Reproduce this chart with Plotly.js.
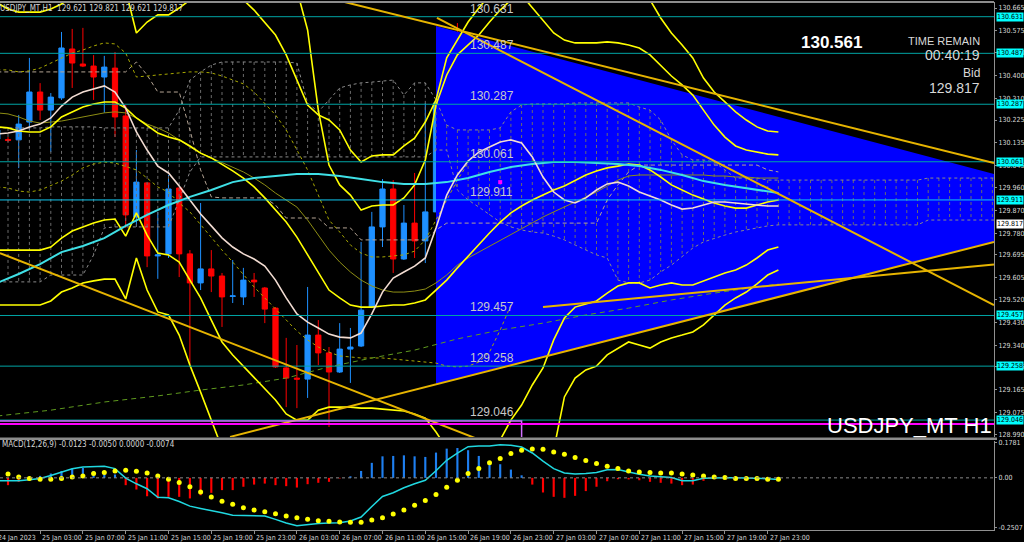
<!DOCTYPE html>
<html>
<head>
<meta charset="utf-8">
<script src="https://cdn.plot.ly/plotly-3.0.1.min.js"></script>
<style>
html,body{margin:0;padding:0;background:#000;overflow:hidden;}
#chart{width:1024px;height:542px;}
</style>
</head>
<body>
<div id="chart"></div>
<script>
// ---------- time base: bar index 0 = 25 Jan 2023 00:00, hourly bars ----------
const START_MS = Date.UTC(2023, 0, 25, 0, 0, 0);
const HOUR_MS = 3600000;
function t(i) { return new Date(START_MS + i * HOUR_MS).toISOString().slice(0, 23).replace('T', ' '); }
const FIRST_BAR = -1;

// ---------- USDJPY H1 candles (bars -1 .. 72) ----------
const open = [130.150,130.148,130.147,130.217,130.335,130.264,130.312,130.504,130.445,130.437,
 130.394,130.429,130.241,129.844,129.978,129.691,129.699,129.958,129.699,129.585,
 129.640,129.612,129.532,129.530,129.596,129.565,129.486,129.251,129.211,129.207,
 129.380,129.310,129.235,129.325,129.337,129.490,129.805,129.954,129.679,129.820,
 129.750,129.864,130.292,130.449,130.402,130.335,130.147,130.221,130.241,130.158,
 130.115,129.801,129.644,129.687,129.761,129.856,130.017,129.981,130.186,129.962,
 129.903,129.848,129.820,129.903,129.868,129.726,129.860,129.966,129.938,129.919,
 129.915,129.899,129.875,129.621];
const high = [130.205,130.158,130.245,130.469,130.370,130.331,130.571,130.583,130.587,130.480,
 130.477,130.492,130.284,130.107,129.978,129.864,130.009,129.958,129.714,129.899,
 129.714,129.624,129.675,129.644,129.624,129.569,129.490,129.369,129.341,129.569,
 129.439,129.333,129.427,129.408,129.746,129.864,129.993,129.989,129.891,130.017,
 130.292,130.304,130.551,130.606,130.422,130.363,130.292,130.272,130.276,130.198,
 130.135,129.801,129.726,129.781,129.891,130.154,130.037,130.264,130.272,129.978,
 129.938,129.883,129.938,129.923,129.891,129.883,130.068,129.981,129.978,129.930,
 129.938,129.923,129.883,129.821];
const low = [130.127,130.139,130.036,130.186,130.225,130.099,130.304,130.351,130.433,130.304,
 130.253,130.158,129.801,129.805,129.647,129.601,129.683,129.608,129.255,129.557,
 129.549,129.412,129.506,129.498,129.530,129.427,129.251,129.097,129.093,129.133,
 129.262,129.019,129.231,129.192,129.333,129.486,129.726,129.624,129.675,129.683,
 129.663,129.864,130.119,130.382,130.253,130.127,130.119,130.213,130.202,130.115,
 129.636,129.490,129.616,129.604,129.604,129.832,129.962,129.962,129.962,129.864,
 129.805,129.805,129.793,129.844,129.726,129.714,129.844,129.785,129.820,129.891,
 129.871,129.852,129.813,129.621];
const close = [130.186,130.145,130.209,130.335,130.264,130.315,130.508,130.449,130.437,130.394,
 130.433,130.237,129.852,129.981,129.691,129.695,129.954,129.699,129.585,129.640,
 129.612,129.530,129.534,129.596,129.589,129.482,129.255,129.211,129.207,129.380,
 129.310,129.235,129.325,129.333,129.478,129.805,129.954,129.679,129.820,129.750,
 129.864,130.292,130.449,130.402,130.335,130.150,130.221,130.241,130.221,130.115,
 129.801,129.632,129.687,129.761,129.860,130.017,129.981,130.182,129.962,129.903,
 129.848,129.820,129.903,129.868,129.730,129.864,129.978,129.938,129.915,129.911,
 129.903,129.875,129.852,129.817];

// ---------- moving averages / bands (bars -1 .. 72) ----------
const maWhite = [130.170,130.174,130.182,130.198,130.209,130.233,130.280,130.315,130.335,130.347,
 130.359,130.335,130.272,130.178,130.107,130.044,130.017,129.966,129.911,129.856,
 129.809,129.762,129.726,129.699,129.679,129.651,129.596,129.526,129.463,129.431,
 129.408,129.384,129.372,129.369,129.388,129.463,129.549,129.604,129.628,129.651,
 129.683,129.801,129.930,130.009,130.064,130.099,130.119,130.139,130.147,130.135,
 130.080,130.001,129.942,129.911,129.899,129.919,129.950,129.974,129.981,129.966,
 129.942,129.926,129.911,129.891,129.875,129.879,129.891,129.903,129.903,129.899,
 129.895,129.891,129.887,129.887];
const maCyanIdx = [-1,1,3,5,7,9,11,13,15,17,19,21,23,25,27,29,31,33,35,37,39,41,43,45,47,49,51,53,55,57,59,61,63,65,67,69,71,72];
const maCyan = [129.585,129.620,129.659,129.706,129.730,129.761,129.809,129.852,129.891,129.923,
 129.950,129.981,129.997,130.005,130.013,130.013,130.005,129.993,129.981,129.974,
 129.974,129.981,129.997,130.021,130.040,130.052,130.060,130.060,130.056,130.052,
 130.044,130.029,130.009,129.985,129.970,129.958,129.946,129.938];
const bandMid = [130.198,130.194,130.182,130.178,130.178,130.198,130.237,130.257,130.276,130.288,
 130.296,130.296,130.272,130.233,130.202,130.174,130.158,130.147,130.123,130.095,
 130.076,130.052,130.025,129.997,129.962,129.919,129.871,129.824,129.765,129.695,
 129.628,129.557,129.526,129.498,129.490,129.490,129.494,129.498,129.498,129.506,
 129.518,129.557,129.596,129.644,129.691,129.734,129.781,129.824,129.860,129.887,
 129.911,129.930,129.950,129.966,129.989,130.009,130.025,130.037,130.044,130.052,
 130.048,130.029,130.001,129.970,129.950,129.930,129.915,129.899,129.887,129.879,
 129.879,129.891,129.903,129.911];
const bandUpperA = [130.685,130.661,130.649,130.649,130.649,130.661,130.681,130.708,130.736,130.752,
 130.756,130.752,130.736,130.567,130.610,130.638,130.638,130.665,130.697,130.728,
 130.752,130.760,130.744,130.697,130.657,130.610,130.559,130.481,130.382,130.284,
 130.245,130.225,130.186,130.107,130.060,130.084,130.088,130.088,130.123,130.154,
 130.217,130.304,130.469,130.539,130.610,130.665,130.716,130.744,130.744,130.716,
 130.665,130.618,130.567,130.539,130.528,130.528,130.528,130.532,130.528,130.520,
 130.508,130.481,130.441,130.398,130.363,130.323,130.264,130.205,130.158,130.123,
 130.107,130.099,130.091,130.088];
const bandUpperBStart = 26;
const bandUpperB = [130.854,130.736,130.579,130.264,130.048,129.970,129.930,129.871,129.887,129.891,
 129.891,129.919,129.970,130.068,130.284,130.402,130.481,130.520,130.559,130.610,
 130.657,130.697,130.736,null,null,null,null,null,null,null,
 null,null,null,130.736,130.697,130.626,130.567,130.520,130.469,130.390,
 130.335,130.296,130.257,130.225,130.198,130.182,130.178];
const bandLowerD = [129.714,129.714,129.714,129.714,129.714,129.726,129.761,129.789,129.805,129.820,
 129.832,129.836,129.769,129.860,129.773,129.702,129.695,129.667,129.596,129.526,
 129.439,129.353,129.302,129.258,129.211,129.168,129.125,129.070,129.046,129.046,
 129.085,129.097,129.097,129.097,129.093,129.093,129.089,129.085,129.082,129.070,
 129.054,128.999,128.936,128.889,128.858,128.869,128.909,128.968,129.046,129.105,
 129.184,129.251,129.361,129.447,129.490,129.502,129.514,129.545,129.573,129.585,
 129.585,129.565,129.577,129.585,129.577,129.577,129.593,129.608,129.624,129.636,
 129.655,129.683,129.714,129.726];
const bandLowerE = [129.498,129.498,129.498,129.498,129.498,129.514,129.549,129.565,129.585,129.593,
 129.600,129.600,129.522,129.683,129.557,129.471,129.459,129.380,129.262,129.156,
 129.046,128.936,null,null,null,null,null,null,null,null,
 null,null,null,null,null,null,null,null,null,null,
 null,null,null,null,null,null,null,null,null,null,
 null,128.850,128.928,129.137,129.211,129.243,129.258,129.302,129.329,129.353,
 129.341,129.329,129.353,129.369,129.380,129.392,129.420,129.459,129.498,129.526,
 129.549,129.581,129.616,129.636];
const maOlive = [130.253,130.249,130.237,130.221,130.213,130.217,130.221,130.229,130.237,130.245,
 130.253,130.257,130.253,130.233,130.209,130.194,130.174,130.147,130.119,130.095,
 130.076,130.056,130.040,130.021,129.997,129.970,129.938,129.911,129.883,129.832,
 129.773,129.714,129.667,129.628,129.596,129.573,129.557,129.549,129.549,129.553,
 129.561,129.585,129.616,129.655,129.683,129.706,129.730,129.754,129.777,129.801,
 129.824,129.844,129.864,129.883,129.903,129.923,129.942,129.966,129.989,130.005,
 130.009,130.009,130.009,130.009,130.009,130.009,130.009,130.005,130.005,130.001,
 130.001,129.997,129.997,129.997];
const envUpper = [130.422,130.422,130.414,130.418,130.429,130.449,130.469,130.488,130.500,130.516,
 130.528,130.524,130.488,130.394,130.398,130.402,130.406,130.410,130.414,130.414,
 130.410,130.398,130.382,130.367,130.335,130.292,130.245,130.186,130.107,130.029,
 129.930,129.832,129.785,129.734,129.702,129.687,129.687,129.691,129.695,129.710,
 129.754,129.832,129.911,129.989,130.056];
const envLower = [129.962,129.958,129.946,129.942,129.950,129.966,129.985,130.009,130.037,130.052,
 130.060,130.056,130.044,130.029,129.997,129.962,129.942,129.899,129.864,129.813,
 129.761,129.714,129.667,129.616,129.569,129.526,129.483,129.439,129.396,129.361,
 129.333,129.313,129.298,129.294,129.290,129.290,129.290,129.286,129.282,129.278,
 129.274,129.270,129.258,129.255,129.258,129.274,129.313,129.400,129.498];
const maGreenIdx = [-1,4,9,14,18,22,26,30,34,38,42,46,50,54,58,62,66,70,72];
const maGreen = [129.062,129.085,129.117,129.141,129.164,129.184,129.211,129.255,129.290,129.321,
 129.365,129.400,129.427,129.459,129.486,129.518,129.545,129.569,129.581];
const kijun = [130.414,130.414,130.414,130.414,130.414,130.414,130.414,130.414,130.414,130.414,
 130.414,130.414,130.414,130.453,130.402,130.335,130.335,130.335,130.186,130.029,
 129.923,129.919,129.919,129.919,129.919,129.919,129.891,129.840,129.840,129.840,
 129.840,129.801,129.801,129.801,129.754,129.754,129.754,129.754,129.754,129.754,
 129.754,129.793,129.820,129.820,129.820,129.820,129.820,129.820,129.820,129.820,
 129.820,129.820,129.820,129.820,129.820,129.820,129.820,129.911,129.970,130.021,
 130.048,130.048,130.048,130.048,130.048,130.048,130.048,130.048,130.048,130.048,
 130.048,130.048,130.029,130.021];

// ---------- Ichimoku cloud spans (bars -1 .. 98) ----------
const cloudTop = [130.194,130.194,130.194,130.194,130.194,130.198,130.198,130.198,130.198,130.198,
 130.194,130.194,130.194,130.194,130.194,130.194,130.194,130.264,130.382,130.414,
 130.441,130.453,130.453,130.453,130.453,130.453,130.453,130.453,130.449,130.292,
 130.257,130.304,130.351,130.363,130.371,130.374,130.378,130.382,130.323,130.371,
 130.371,130.304,130.205,130.186,130.186,130.186,130.186,130.194,130.257,130.284,
 130.288,130.288,130.288,130.288,130.292,130.292,130.292,130.292,130.292,130.292,
 130.276,130.264,130.225,130.147,130.088,130.068,130.068,130.060,130.029,129.997,
 129.997,129.997,129.989,129.989,129.989,129.989,129.989,129.989,129.989,129.989,
 129.989,129.989,129.989,129.989,129.989,129.989,129.989,129.997,129.997,129.997,
 129.997,129.997,129.997,129.997,129.997,129.997,129.997,129.997,129.997,129.997];
const cloudBot = [129.589,129.589,129.589,129.589,129.589,129.616,129.616,129.616,129.616,129.695,
 129.801,129.805,129.805,129.805,129.805,129.805,129.805,129.911,130.021,130.080,
 130.080,130.080,130.080,130.080,130.080,130.080,130.080,130.080,130.080,130.080,
 130.080,130.080,130.080,130.080,130.080,130.080,130.080,130.080,130.080,130.080,
 130.080,130.107,130.107,129.950,129.911,129.883,129.852,129.824,129.805,129.793,
 129.785,129.781,129.769,129.754,129.734,129.714,129.695,129.683,129.596,129.585,
 129.585,129.596,129.628,129.655,129.687,129.722,129.746,129.761,129.773,129.785,
 129.793,129.801,129.809,129.813,129.813,129.813,129.813,129.813,129.813,129.813,
 129.813,129.813,129.813,129.813,129.813,129.813,129.813,129.832,129.832,129.832,
 129.832,129.832,129.832,129.832,129.832,129.832,129.832,129.832,129.832,129.832];

// ---------- horizontal levels and drawn objects ----------
const levels = [130.631, 130.487, 130.287, 130.061, 129.911, 129.457, 129.258, 129.046];
const levelTextIdx = 43;
const bidPrice = 129.817;
const triIdx = [40.0, 40.0, 104.3];
const triPrice = [130.594, 129.188, 129.878];
const trendStartIdx = [30.65, 40.09, 20.75, 50.0, -0.75];
const trendStartPrice = [130.697, 130.626, 128.980, 129.490, 129.702];
const trendEndIdx = [92.15, 92.15, 92.15, 92.15, 44.11];
const trendEndPrice = [130.056, 129.498, 129.746, 129.657, 128.968];
const rectRightIdx = 48;
const rectTopPrice = 129.042;
const magentaLevel = 129.031;
const markerIdx = [46];
const markerPrice = [129.981];

// ---------- MACD(12,26,9) (bars -1 .. 72) ----------
const macdHist = [-0.030,-0.037,-0.020,-0.004,0.010,0.022,0.035,0.047,0.050,0.035,
 0.030,0.017,-0.037,-0.059,-0.093,-0.104,-0.096,-0.096,-0.104,-0.088,
 -0.076,-0.062,-0.062,-0.045,-0.034,-0.029,-0.037,-0.042,-0.049,-0.032,
 -0.025,-0.020,-0.003,0.008,0.035,0.076,0.109,0.111,0.114,0.109,
 0.106,0.128,0.148,0.151,0.140,0.111,0.084,0.069,0.042,0.013,
 -0.034,-0.074,-0.096,-0.101,-0.091,-0.067,-0.045,-0.017,-0.007,-0.008,
 -0.012,-0.020,-0.025,-0.029,-0.037,-0.034,-0.015,-0.003,-0.005,-0.002,
 -0.002,-0.003,-0.010,-0.007];
const macdLine = [-0.015,-0.015,-0.015,-0.010,-0.003,0.012,0.030,0.046,0.055,0.058,
 0.059,0.047,-0.001,-0.030,-0.055,-0.098,-0.101,-0.120,-0.143,-0.155,
 -0.165,-0.177,-0.189,-0.190,-0.191,-0.193,-0.210,-0.228,-0.242,-0.236,
 -0.231,-0.228,-0.227,-0.218,-0.198,-0.145,-0.094,-0.075,-0.050,-0.030,
 -0.012,0.036,0.089,0.125,0.158,0.161,0.161,0.167,0.165,0.156,
 0.126,0.085,0.047,0.025,0.019,0.022,0.027,0.041,0.042,0.030,
 0.018,0.010,0.007,0.002,-0.015,-0.015,-0.002,0.000,0.000,0.000,
 -0.001,-0.002,-0.004,-0.008];
const macdDots = [0.030,0.019,0.005,-0.003,-0.007,-0.007,-0.003,0.005,0.010,0.022,
 0.027,0.035,0.039,0.034,0.025,0.010,-0.007,-0.023,-0.045,-0.071,
 -0.097,-0.118,-0.134,-0.151,-0.163,-0.171,-0.182,-0.193,-0.202,-0.210,
 -0.217,-0.220,-0.223,-0.225,-0.225,-0.213,-0.202,-0.183,-0.163,-0.138,
 -0.114,-0.084,-0.048,-0.012,0.022,0.047,0.076,0.098,0.123,0.140,
 0.146,0.145,0.131,0.120,0.103,0.088,0.073,0.059,0.047,0.035,
 0.030,0.027,0.025,0.025,0.019,0.015,0.009,0.005,0.002,-0.003,
 -0.003,-0.003,-0.007,-0.007];

// ---------- axis ticks / labels ----------
const priceTicks = [130.665,130.575,130.490,130.400,130.310,130.225,130.135,130.045,129.960,129.870,
 129.780,129.695,129.605,129.520,129.430,129.340,129.255,129.165,129.075,128.990];
const macdTicks = [0.1781, 0, -0.2507];
const macdTickText = ['0.1781', '0.00', '-0.2507'];
const xTickIdx = [3,7,11,15,19,23,27,31,35,39,43,47,51,55,59,63,67,71];
const xTickText = ['25 Jan 03:00','25 Jan 07:00','25 Jan 11:00','25 Jan 15:00','25 Jan 19:00','25 Jan 23:00',
 '26 Jan 03:00','26 Jan 07:00','26 Jan 11:00','26 Jan 15:00','26 Jan 19:00','26 Jan 23:00',
 '27 Jan 03:00','27 Jan 07:00','27 Jan 11:00','27 Jan 15:00','27 Jan 19:00','27 Jan 23:00'];
const firstDateLabel = '24 Jan 2023';

// ================= build =================
const NARROW = '"Liberation Sans Narrow", "Arial Narrow", "DejaVu Sans Condensed", "Liberation Sans", sans-serif';
const SANS = '"Liberation Sans", Arial, sans-serif';
const barIdx = open.map((_, k) => FIRST_BAR + k);
const barTimes = barIdx.map(t);
const idxFrom = (start, arr) => arr.map((_, k) => t(start + k));
const cloudIdx = cloudTop.map((_, k) => FIRST_BAR + k);

function line(x, y, color, width, dash, yaxis) {
  return {type: 'scatter', mode: 'lines', x: x, y: y, xaxis: 'x', yaxis: yaxis || 'y',
          line: {color: color, width: width, dash: dash || 'solid'}, hoverinfo: 'skip', connectgaps: false};
}

const traces = [];
// blue triangle (background object)
traces.push({type: 'scatter', mode: 'lines', x: triIdx.map(t), y: triPrice, fill: 'toself',
  fillcolor: '#0000ff', line: {color: '#0000ff', width: 0}, xaxis: 'x', yaxis: 'y', hoverinfo: 'skip'});
// Ichimoku cloud hatching
const hx = [], hy = [];
cloudIdx.forEach((i, k) => { hx.push(t(i), t(i), null); hy.push(cloudTop[k], cloudBot[k], null); });
traces.push(line(hx, hy, '#6c6c6c', 1, 'dot'));
traces.push(line(cloudIdx.map(t), cloudTop, '#8a8a8a', 1, 'dot'));
traces.push(line(cloudIdx.map(t), cloudBot, '#8a8a8a', 1, 'dot'));
// candles
traces.push({type: 'candlestick', x: barTimes, open: open, high: high, low: low, close: close,
  xaxis: 'x', yaxis: 'y', hoverinfo: 'skip', whiskerwidth: 0,
  increasing: {line: {color: '#1e90ff', width: 1}, fillcolor: '#1e90ff'},
  decreasing: {line: {color: '#ff0000', width: 1}, fillcolor: '#ff0000'}});
// indicators
traces.push(line(barTimes, kijun, '#b4a494', 1, '4px,3px'));
traces.push(line(idxFrom(FIRST_BAR, envUpper), envUpper, '#a8a800', 1, 'dot'));
traces.push(line(idxFrom(FIRST_BAR, envLower), envLower, '#a8a800', 1, 'dot'));
traces.push(line(barTimes, maOlive, '#8e8e14', 1));
traces.push(line(maGreenIdx.map(t), maGreen, '#5f9a1e', 1, '5px,4px'));
traces.push(line(barTimes, bandUpperA, '#ffff00', 1.6));
traces.push(line(idxFrom(bandUpperBStart, bandUpperB), bandUpperB, '#ffff00', 1.6));
traces.push(line(barTimes, bandLowerD, '#ffff00', 1.6));
traces.push(line(barTimes, bandLowerE, '#ffff00', 1.6));
traces.push(line(barTimes, bandMid, '#ffff00', 1.6));
traces.push(line(maCyanIdx.map(t), maCyan, '#3fe0e6', 2));
traces.push(line(barTimes, maWhite, '#f2dcd2', 1.6));
traces.push({type: 'scatter', mode: 'markers', x: markerIdx.map(t), y: markerPrice, xaxis: 'x', yaxis: 'y',
  marker: {symbol: 'square', size: 4, color: '#ff00ff'}, hoverinfo: 'skip'});
// horizontal levels
levels.forEach(v => traces.push(line([t(-3), t(110)], [v, v], v === 129.911 ? '#10c8f0' : '#00a4a4', 1)));
// trend lines
const tx = [], ty = [];
trendStartIdx.forEach((s, k) => { tx.push(t(s), t(trendEndIdx[k]), null); ty.push(trendStartPrice[k], trendEndPrice[k], null); });
traces.push(line(tx, ty, '#e6b400', 2));
// rectangle + magenta line
traces.push(line([t(-3), t(rectRightIdx), t(rectRightIdx)], [rectTopPrice, rectTopPrice, 128.90], '#d070ff', 1.5));
traces.push(line([t(-3), t(110)], [magentaLevel, magentaLevel], '#ff00ff', 2));

// MACD pane
traces.push({type: 'bar', x: barTimes, y: macdHist, xaxis: 'x', yaxis: 'y2', width: 0.2 * HOUR_MS,
  marker: {color: macdHist.map(v => v >= 0 ? '#1e7ff0' : '#ff0000'), line: {width: 0}}, hoverinfo: 'skip'});
traces.push(line(barTimes, macdLine, '#20d8e0', 1.5, 'solid', 'y2'));
traces.push({type: 'scatter', mode: 'markers', x: barTimes, y: macdDots, xaxis: 'x', yaxis: 'y2',
  marker: {color: '#ffff00', size: 5}, hoverinfo: 'skip'});

// ---------- annotations ----------
const ann = [];
function pxX(px) { return px / 994; }
function pxY(py) { return (530 - py) / 528; }
ann.push({xref: 'paper', yref: 'paper', x: 0, y: 1, xanchor: 'left', yanchor: 'top', xshift: -2, yshift: 0,
  text: 'USDJPY_MT,H1  129.621 129.821 129.621 129.817', showarrow: false, font: {family: NARROW, size: 8, color: '#d4d4d4'}});
ann.push({xref: 'paper', yref: 'paper', x: pxX(831), y: pxY(43), xanchor: 'center', yanchor: 'middle',
  text: '<b>130.561</b>', showarrow: false, font: {family: SANS, size: 17, color: '#ffffff'}});
ann.push({xref: 'paper', yref: 'paper', x: pxX(982), y: pxY(40.7), xanchor: 'right', yanchor: 'middle',
  text: 'TIME REMAIN', showarrow: false, font: {family: SANS, size: 11, color: '#d8d8d8'}});
ann.push({xref: 'paper', yref: 'paper', x: pxX(982), y: pxY(55), xanchor: 'right', yanchor: 'middle',
  text: '00:40:19', showarrow: false, font: {family: SANS, size: 14, color: '#d8d8d8'}});
ann.push({xref: 'paper', yref: 'paper', x: pxX(982), y: pxY(73), xanchor: 'right', yanchor: 'middle',
  text: 'Bid', showarrow: false, font: {family: SANS, size: 12, color: '#d8d8d8'}});
ann.push({xref: 'paper', yref: 'paper', x: pxX(982), y: pxY(87.5), xanchor: 'right', yanchor: 'middle',
  text: '129.817', showarrow: false, font: {family: SANS, size: 14, color: '#d8d8d8'}});
ann.push({xref: 'paper', yref: 'paper', x: pxX(994), y: pxY(425), xanchor: 'right', yanchor: 'middle',
  text: 'USDJPY_MT H1', showarrow: false, font: {family: SANS, size: 22, color: '#ffffff'}});
ann.push({xref: 'paper', yref: 'paper', x: 0, y: pxY(444), xanchor: 'left', yanchor: 'middle', xshift: 0,
  text: 'MACD(12,26,9) -0.0123 -0.0050 0.0000 -0.0074', showarrow: false, font: {family: NARROW, size: 8, color: '#d4d4d4'}});
// level texts in chart
levels.forEach(v => ann.push({xref: 'x', yref: 'y', x: t(levelTextIdx), y: v, xanchor: 'left', yanchor: 'bottom',
  yshift: -1, text: v.toFixed(3), showarrow: false, font: {family: SANS, size: 12, color: '#c8c8c8'}}));
// right-axis price boxes
levels.forEach(v => ann.push({xref: 'paper', yref: 'y', x: 1, y: v, xanchor: 'left', yanchor: 'middle', xshift: 2,
  text: v.toFixed(3), showarrow: false, bgcolor: '#00ffff', borderpad: 0, width: 26, height: 8,
  font: {family: NARROW, size: 7, color: '#000000'}}));
ann.push({xref: 'paper', yref: 'y', x: 1, y: bidPrice, xanchor: 'left', yanchor: 'middle', xshift: 2,
  text: bidPrice.toFixed(3), showarrow: false, bgcolor: '#ffffff', borderpad: 0, width: 26, height: 8,
  font: {family: NARROW, size: 7, color: '#000000'}});
// x-axis date labels (MT4 style: text starts at tick)
xTickIdx.forEach((i, k) => ann.push({xref: 'x', yref: 'paper', x: t(i), y: 0, xanchor: 'left', yanchor: 'top',
  xshift: 0, yshift: -2, text: xTickText[k], showarrow: false, font: {family: NARROW, size: 7, color: '#d4d4d4'}}));
ann.push({xref: 'paper', yref: 'paper', x: 0, y: 0, xanchor: 'left', yanchor: 'top', xshift: -4, yshift: -2,
  text: firstDateLabel, showarrow: false, font: {family: NARROW, size: 7, color: '#d4d4d4'}});

const axisCommon = {showgrid: false, zeroline: false, ticks: 'outside', ticklen: 2, tickcolor: '#909090',
  showline: true, linecolor: '#909090', linewidth: 1, fixedrange: true};

const layout = {
  width: 1024, height: 542,
  margin: {l: 0, r: 30, t: 2, b: 12, pad: 0},
  paper_bgcolor: '#000000', plot_bgcolor: '#000000',
  showlegend: false, hovermode: false, dragmode: false,
  font: {family: NARROW, size: 8, color: '#d8d8d8'},
  xaxis: Object.assign({}, axisCommon, {type: 'date', range: [t(-0.748), t(92.15)], anchor: 'y2', domain: [0, 1],
    rangeslider: {visible: false}, tickvals: xTickIdx.map(t), showticklabels: false, ticklen: 3}),
  yaxis: Object.assign({}, axisCommon, {domain: [0.1761, 1], range: [128.9795, 130.6887], side: 'right', anchor: 'x',
    tickvals: priceTicks, ticktext: priceTicks.map(v => v.toFixed(3)),
    tickfont: {family: NARROW, size: 7, color: '#d8d8d8'}}),
  yaxis2: Object.assign({}, axisCommon, {domain: [0, 0.1686], range: [-0.2639, 0.1867], side: 'right', anchor: 'x',
    tickvals: macdTicks, ticktext: macdTickText, tickfont: {family: NARROW, size: 7, color: '#d8d8d8'}}),
  shapes: [
    {type: 'line', xref: 'paper', yref: 'y2', x0: 0, x1: 1, y0: 0, y1: 0, line: {color: '#8a8a8a', width: 1, dash: 'dot'}},
    {type: 'rect', xref: 'paper', yref: 'paper', x0: 0, x1: 1.003, y0: 0.1705, y1: 0.1752, fillcolor: '#8c8c8c', line: {width: 0}},
    {type: 'line', xref: 'paper', yref: 'paper', x0: 0, x1: 1, y0: 1, y1: 1, line: {color: '#8c8c8c', width: 2}}
  ],
  annotations: ann
};

Plotly.newPlot('chart', traces, layout, {displayModeBar: false, staticPlot: true});
</script>
</body>
</html>
